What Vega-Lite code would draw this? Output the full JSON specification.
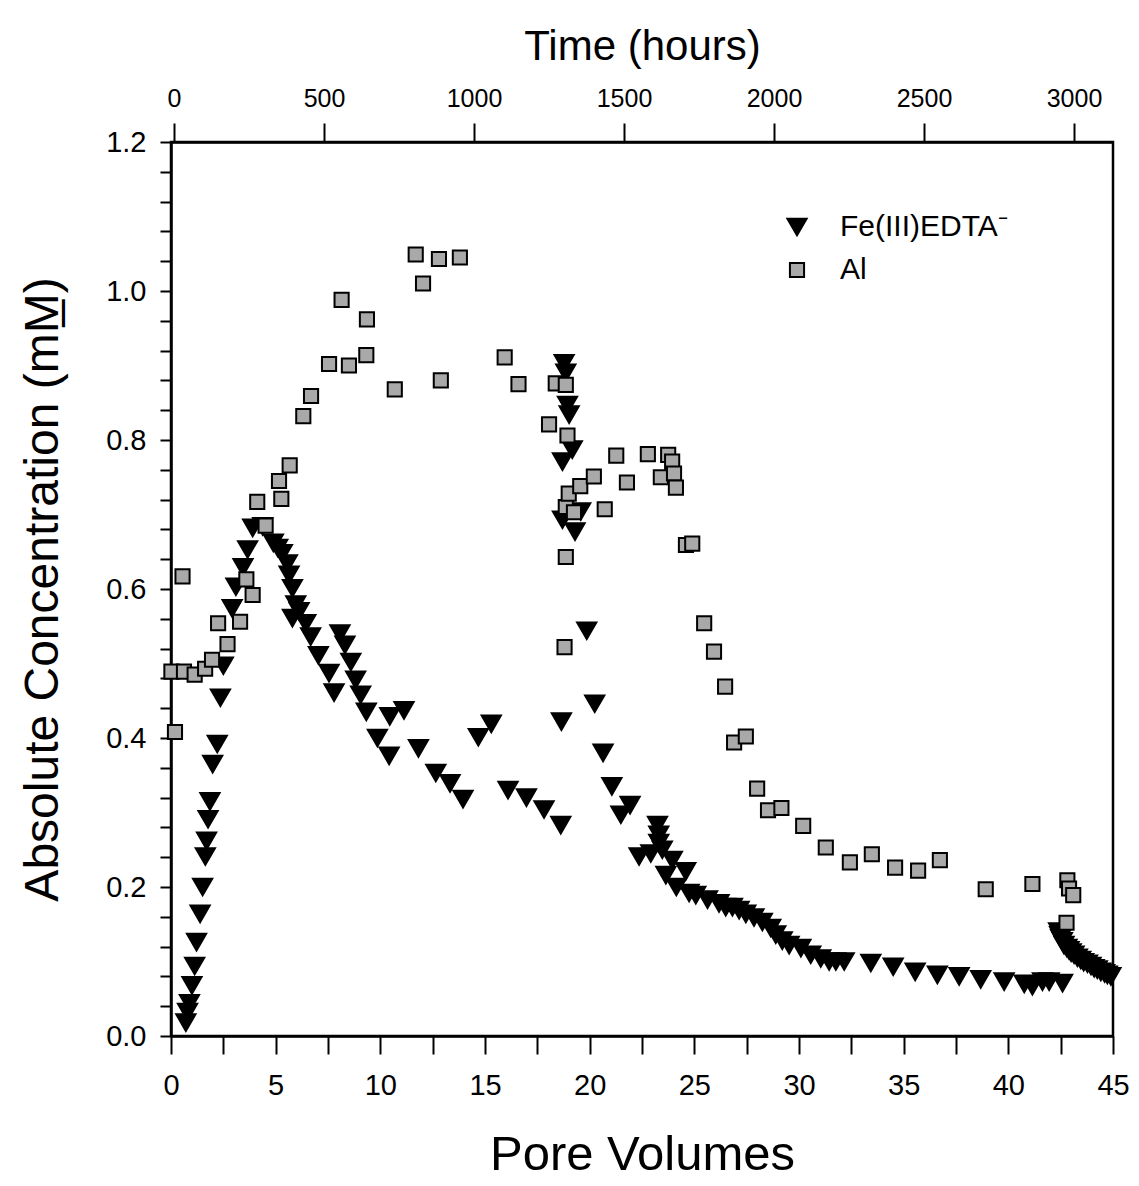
{
  "$schema": "https://vega.github.io/schema/vega-lite/v6.json",
  "width": 942,
  "height": 894,
  "autosize": {"type": "none"},
  "padding": {"left": 171, "top": 142, "right": 26, "bottom": 150},
  "background": "white",
  "config": {
    "font": "Liberation Sans",
    "view": {"stroke": "black", "strokeWidth": 2.5},
    "axis": {
      "grid": false,
      "domainColor": "black",
      "domainWidth": 2.5,
      "tickColor": "black",
      "tickWidth": 2,
      "labelColor": "black",
      "titleColor": "black",
      "labelFont": "Liberation Sans",
      "titleFont": "Liberation Sans",
      "titleFontWeight": "normal",
      "labelFlush": false,
      "labelOverlap": false
    },
    "legend": {
      "orient": "none",
      "legendX": 611,
      "legendY": 70,
      "padding": 0,
      "labelFontSize": 30,
      "labelFont": "Liberation Sans",
      "labelColor": "black",
      "labelOffset": 28,
      "labelLimit": 0,
      "rowPadding": 13,
      "symbolStrokeWidth": 2
    }
  },
  "datasets": {
    "pts": [
      {"s": "Fe(III)EDTA⁻", "pv": 0.71, "c": 0.018},
      {"s": "Fe(III)EDTA⁻", "pv": 0.79, "c": 0.032},
      {"s": "Fe(III)EDTA⁻", "pv": 0.88, "c": 0.044},
      {"s": "Fe(III)EDTA⁻", "pv": 1.0, "c": 0.068},
      {"s": "Fe(III)EDTA⁻", "pv": 1.13, "c": 0.094},
      {"s": "Fe(III)EDTA⁻", "pv": 1.22, "c": 0.126},
      {"s": "Fe(III)EDTA⁻", "pv": 1.39, "c": 0.164},
      {"s": "Fe(III)EDTA⁻", "pv": 1.51, "c": 0.2},
      {"s": "Fe(III)EDTA⁻", "pv": 1.64, "c": 0.241},
      {"s": "Fe(III)EDTA⁻", "pv": 1.7, "c": 0.262},
      {"s": "Fe(III)EDTA⁻", "pv": 1.77, "c": 0.291},
      {"s": "Fe(III)EDTA⁻", "pv": 1.86, "c": 0.315},
      {"s": "Fe(III)EDTA⁻", "pv": 1.99, "c": 0.365},
      {"s": "Fe(III)EDTA⁻", "pv": 2.21, "c": 0.392},
      {"s": "Fe(III)EDTA⁻", "pv": 2.36, "c": 0.454},
      {"s": "Fe(III)EDTA⁻", "pv": 2.5, "c": 0.497},
      {"s": "Fe(III)EDTA⁻", "pv": 2.92, "c": 0.574},
      {"s": "Fe(III)EDTA⁻", "pv": 3.1, "c": 0.603},
      {"s": "Fe(III)EDTA⁻", "pv": 3.44, "c": 0.629},
      {"s": "Fe(III)EDTA⁻", "pv": 3.66, "c": 0.653},
      {"s": "Fe(III)EDTA⁻", "pv": 3.9, "c": 0.682},
      {"s": "Fe(III)EDTA⁻", "pv": 4.38, "c": 0.684},
      {"s": "Fe(III)EDTA⁻", "pv": 4.89, "c": 0.662},
      {"s": "Fe(III)EDTA⁻", "pv": 5.1, "c": 0.655},
      {"s": "Fe(III)EDTA⁻", "pv": 5.32, "c": 0.648},
      {"s": "Fe(III)EDTA⁻", "pv": 5.56, "c": 0.634},
      {"s": "Fe(III)EDTA⁻", "pv": 5.64, "c": 0.619},
      {"s": "Fe(III)EDTA⁻", "pv": 5.8, "c": 0.601},
      {"s": "Fe(III)EDTA⁻", "pv": 5.96, "c": 0.579},
      {"s": "Fe(III)EDTA⁻", "pv": 5.8, "c": 0.561},
      {"s": "Fe(III)EDTA⁻", "pv": 6.12, "c": 0.57},
      {"s": "Fe(III)EDTA⁻", "pv": 6.44, "c": 0.554},
      {"s": "Fe(III)EDTA⁻", "pv": 6.67, "c": 0.536},
      {"s": "Fe(III)EDTA⁻", "pv": 7.04, "c": 0.511},
      {"s": "Fe(III)EDTA⁻", "pv": 7.55, "c": 0.487},
      {"s": "Fe(III)EDTA⁻", "pv": 7.79, "c": 0.461},
      {"s": "Fe(III)EDTA⁻", "pv": 8.07, "c": 0.54},
      {"s": "Fe(III)EDTA⁻", "pv": 8.31, "c": 0.525},
      {"s": "Fe(III)EDTA⁻", "pv": 8.59, "c": 0.502},
      {"s": "Fe(III)EDTA⁻", "pv": 8.82, "c": 0.478},
      {"s": "Fe(III)EDTA⁻", "pv": 9.06, "c": 0.458},
      {"s": "Fe(III)EDTA⁻", "pv": 9.33, "c": 0.435},
      {"s": "Fe(III)EDTA⁻", "pv": 9.86, "c": 0.4},
      {"s": "Fe(III)EDTA⁻", "pv": 10.42, "c": 0.376},
      {"s": "Fe(III)EDTA⁻", "pv": 10.45, "c": 0.429},
      {"s": "Fe(III)EDTA⁻", "pv": 11.13, "c": 0.437},
      {"s": "Fe(III)EDTA⁻", "pv": 11.82, "c": 0.386},
      {"s": "Fe(III)EDTA⁻", "pv": 12.65, "c": 0.353},
      {"s": "Fe(III)EDTA⁻", "pv": 13.33, "c": 0.339},
      {"s": "Fe(III)EDTA⁻", "pv": 13.95, "c": 0.318},
      {"s": "Fe(III)EDTA⁻", "pv": 14.68, "c": 0.401},
      {"s": "Fe(III)EDTA⁻", "pv": 15.3, "c": 0.419},
      {"s": "Fe(III)EDTA⁻", "pv": 16.1, "c": 0.33},
      {"s": "Fe(III)EDTA⁻", "pv": 16.98, "c": 0.32},
      {"s": "Fe(III)EDTA⁻", "pv": 17.82, "c": 0.304},
      {"s": "Fe(III)EDTA⁻", "pv": 18.62, "c": 0.283},
      {"s": "Fe(III)EDTA⁻", "pv": 18.65, "c": 0.422},
      {"s": "Fe(III)EDTA⁻", "pv": 18.78, "c": 0.903},
      {"s": "Fe(III)EDTA⁻", "pv": 18.86, "c": 0.89},
      {"s": "Fe(III)EDTA⁻", "pv": 18.94, "c": 0.847},
      {"s": "Fe(III)EDTA⁻", "pv": 19.02, "c": 0.834},
      {"s": "Fe(III)EDTA⁻", "pv": 19.17, "c": 0.787},
      {"s": "Fe(III)EDTA⁻", "pv": 18.7, "c": 0.771},
      {"s": "Fe(III)EDTA⁻", "pv": 19.57, "c": 0.704},
      {"s": "Fe(III)EDTA⁻", "pv": 18.7, "c": 0.693},
      {"s": "Fe(III)EDTA⁻", "pv": 19.3, "c": 0.677},
      {"s": "Fe(III)EDTA⁻", "pv": 19.86, "c": 0.544},
      {"s": "Fe(III)EDTA⁻", "pv": 20.24, "c": 0.446},
      {"s": "Fe(III)EDTA⁻", "pv": 20.64, "c": 0.38},
      {"s": "Fe(III)EDTA⁻", "pv": 21.06, "c": 0.335},
      {"s": "Fe(III)EDTA⁻", "pv": 21.93, "c": 0.31},
      {"s": "Fe(III)EDTA⁻", "pv": 21.49, "c": 0.297},
      {"s": "Fe(III)EDTA⁻", "pv": 22.36, "c": 0.241},
      {"s": "Fe(III)EDTA⁻", "pv": 22.92, "c": 0.245},
      {"s": "Fe(III)EDTA⁻", "pv": 23.24, "c": 0.283},
      {"s": "Fe(III)EDTA⁻", "pv": 23.3, "c": 0.27},
      {"s": "Fe(III)EDTA⁻", "pv": 23.3, "c": 0.259},
      {"s": "Fe(III)EDTA⁻", "pv": 23.47, "c": 0.25},
      {"s": "Fe(III)EDTA⁻", "pv": 23.95, "c": 0.236},
      {"s": "Fe(III)EDTA⁻", "pv": 23.64, "c": 0.216},
      {"s": "Fe(III)EDTA⁻", "pv": 24.59, "c": 0.221},
      {"s": "Fe(III)EDTA⁻", "pv": 24.14, "c": 0.2},
      {"s": "Fe(III)EDTA⁻", "pv": 24.75, "c": 0.192},
      {"s": "Fe(III)EDTA⁻", "pv": 25.07, "c": 0.189},
      {"s": "Fe(III)EDTA⁻", "pv": 25.63, "c": 0.183},
      {"s": "Fe(III)EDTA⁻", "pv": 26.18, "c": 0.178},
      {"s": "Fe(III)EDTA⁻", "pv": 26.5, "c": 0.173},
      {"s": "Fe(III)EDTA⁻", "pv": 26.82, "c": 0.173},
      {"s": "Fe(III)EDTA⁻", "pv": 27.14, "c": 0.169},
      {"s": "Fe(III)EDTA⁻", "pv": 27.46, "c": 0.164},
      {"s": "Fe(III)EDTA⁻", "pv": 27.85, "c": 0.159},
      {"s": "Fe(III)EDTA⁻", "pv": 28.25, "c": 0.153},
      {"s": "Fe(III)EDTA⁻", "pv": 28.65, "c": 0.145},
      {"s": "Fe(III)EDTA⁻", "pv": 28.89, "c": 0.136},
      {"s": "Fe(III)EDTA⁻", "pv": 29.2, "c": 0.128},
      {"s": "Fe(III)EDTA⁻", "pv": 29.53, "c": 0.122},
      {"s": "Fe(III)EDTA⁻", "pv": 30.09, "c": 0.118},
      {"s": "Fe(III)EDTA⁻", "pv": 30.56, "c": 0.109},
      {"s": "Fe(III)EDTA⁻", "pv": 31.04, "c": 0.104},
      {"s": "Fe(III)EDTA⁻", "pv": 31.44, "c": 0.1},
      {"s": "Fe(III)EDTA⁻", "pv": 31.76, "c": 0.1},
      {"s": "Fe(III)EDTA⁻", "pv": 32.16, "c": 0.1},
      {"s": "Fe(III)EDTA⁻", "pv": 33.43, "c": 0.098},
      {"s": "Fe(III)EDTA⁻", "pv": 34.5, "c": 0.093},
      {"s": "Fe(III)EDTA⁻", "pv": 35.55, "c": 0.086},
      {"s": "Fe(III)EDTA⁻", "pv": 36.61, "c": 0.082},
      {"s": "Fe(III)EDTA⁻", "pv": 37.65, "c": 0.08},
      {"s": "Fe(III)EDTA⁻", "pv": 38.68, "c": 0.076},
      {"s": "Fe(III)EDTA⁻", "pv": 39.8, "c": 0.073},
      {"s": "Fe(III)EDTA⁻", "pv": 40.76, "c": 0.07},
      {"s": "Fe(III)EDTA⁻", "pv": 41.15, "c": 0.067},
      {"s": "Fe(III)EDTA⁻", "pv": 41.63, "c": 0.073},
      {"s": "Fe(III)EDTA⁻", "pv": 41.95, "c": 0.073},
      {"s": "Fe(III)EDTA⁻", "pv": 42.59, "c": 0.071},
      {"s": "Fe(III)EDTA⁻", "pv": 42.4, "c": 0.14},
      {"s": "Fe(III)EDTA⁻", "pv": 42.45, "c": 0.135},
      {"s": "Fe(III)EDTA⁻", "pv": 42.5, "c": 0.131},
      {"s": "Fe(III)EDTA⁻", "pv": 42.58, "c": 0.127},
      {"s": "Fe(III)EDTA⁻", "pv": 42.66, "c": 0.122},
      {"s": "Fe(III)EDTA⁻", "pv": 42.8, "c": 0.118},
      {"s": "Fe(III)EDTA⁻", "pv": 42.9, "c": 0.115},
      {"s": "Fe(III)EDTA⁻", "pv": 43.0, "c": 0.112},
      {"s": "Fe(III)EDTA⁻", "pv": 43.14, "c": 0.109},
      {"s": "Fe(III)EDTA⁻", "pv": 43.3, "c": 0.105},
      {"s": "Fe(III)EDTA⁻", "pv": 43.46, "c": 0.102},
      {"s": "Fe(III)EDTA⁻", "pv": 43.6, "c": 0.099},
      {"s": "Fe(III)EDTA⁻", "pv": 43.78, "c": 0.097},
      {"s": "Fe(III)EDTA⁻", "pv": 43.95, "c": 0.094},
      {"s": "Fe(III)EDTA⁻", "pv": 44.1, "c": 0.091},
      {"s": "Fe(III)EDTA⁻", "pv": 44.25, "c": 0.089},
      {"s": "Fe(III)EDTA⁻", "pv": 44.42, "c": 0.086},
      {"s": "Fe(III)EDTA⁻", "pv": 44.6, "c": 0.084},
      {"s": "Fe(III)EDTA⁻", "pv": 44.73, "c": 0.082},
      {"s": "Fe(III)EDTA⁻", "pv": 44.9, "c": 0.08},
      {"s": "Al", "pv": 0.02, "c": 0.489},
      {"s": "Al", "pv": 0.19, "c": 0.408},
      {"s": "Al", "pv": 0.55, "c": 0.617},
      {"s": "Al", "pv": 0.62, "c": 0.489},
      {"s": "Al", "pv": 1.13, "c": 0.485},
      {"s": "Al", "pv": 1.63, "c": 0.493},
      {"s": "Al", "pv": 1.96, "c": 0.505},
      {"s": "Al", "pv": 2.25, "c": 0.554},
      {"s": "Al", "pv": 2.7, "c": 0.526},
      {"s": "Al", "pv": 3.3, "c": 0.556},
      {"s": "Al", "pv": 3.6, "c": 0.613},
      {"s": "Al", "pv": 3.9, "c": 0.592},
      {"s": "Al", "pv": 4.12, "c": 0.717},
      {"s": "Al", "pv": 4.52, "c": 0.685},
      {"s": "Al", "pv": 5.16, "c": 0.745},
      {"s": "Al", "pv": 5.27, "c": 0.721},
      {"s": "Al", "pv": 5.67, "c": 0.766},
      {"s": "Al", "pv": 6.32, "c": 0.832},
      {"s": "Al", "pv": 6.69, "c": 0.859},
      {"s": "Al", "pv": 7.55, "c": 0.902},
      {"s": "Al", "pv": 8.15, "c": 0.988},
      {"s": "Al", "pv": 8.5, "c": 0.9},
      {"s": "Al", "pv": 9.33, "c": 0.914},
      {"s": "Al", "pv": 9.36, "c": 0.962},
      {"s": "Al", "pv": 10.69, "c": 0.868},
      {"s": "Al", "pv": 11.69, "c": 1.049},
      {"s": "Al", "pv": 12.04, "c": 1.01},
      {"s": "Al", "pv": 12.8, "c": 1.043},
      {"s": "Al", "pv": 12.89, "c": 0.88},
      {"s": "Al", "pv": 13.8, "c": 1.045},
      {"s": "Al", "pv": 15.94, "c": 0.911},
      {"s": "Al", "pv": 16.6, "c": 0.875},
      {"s": "Al", "pv": 18.06, "c": 0.821},
      {"s": "Al", "pv": 18.38, "c": 0.876},
      {"s": "Al", "pv": 18.86, "c": 0.874},
      {"s": "Al", "pv": 18.94, "c": 0.806},
      {"s": "Al", "pv": 18.86, "c": 0.71},
      {"s": "Al", "pv": 19.0, "c": 0.728},
      {"s": "Al", "pv": 19.25, "c": 0.703},
      {"s": "Al", "pv": 19.55, "c": 0.738},
      {"s": "Al", "pv": 20.2, "c": 0.751},
      {"s": "Al", "pv": 20.72, "c": 0.707},
      {"s": "Al", "pv": 21.27, "c": 0.779},
      {"s": "Al", "pv": 21.78, "c": 0.743},
      {"s": "Al", "pv": 22.78, "c": 0.781},
      {"s": "Al", "pv": 23.4, "c": 0.75},
      {"s": "Al", "pv": 23.75, "c": 0.78},
      {"s": "Al", "pv": 23.94, "c": 0.771},
      {"s": "Al", "pv": 24.03, "c": 0.755},
      {"s": "Al", "pv": 24.12, "c": 0.736},
      {"s": "Al", "pv": 24.6, "c": 0.659},
      {"s": "Al", "pv": 24.9, "c": 0.661},
      {"s": "Al", "pv": 18.86, "c": 0.643},
      {"s": "Al", "pv": 18.8, "c": 0.522},
      {"s": "Al", "pv": 25.47, "c": 0.554},
      {"s": "Al", "pv": 25.94, "c": 0.516},
      {"s": "Al", "pv": 26.47, "c": 0.469},
      {"s": "Al", "pv": 26.9, "c": 0.394},
      {"s": "Al", "pv": 27.46, "c": 0.402},
      {"s": "Al", "pv": 28.0, "c": 0.332},
      {"s": "Al", "pv": 28.52, "c": 0.303},
      {"s": "Al", "pv": 29.16, "c": 0.306},
      {"s": "Al", "pv": 30.2, "c": 0.282},
      {"s": "Al", "pv": 31.28, "c": 0.253},
      {"s": "Al", "pv": 32.43, "c": 0.233},
      {"s": "Al", "pv": 33.48, "c": 0.244},
      {"s": "Al", "pv": 34.59, "c": 0.226},
      {"s": "Al", "pv": 35.69, "c": 0.222},
      {"s": "Al", "pv": 36.73, "c": 0.236},
      {"s": "Al", "pv": 38.92, "c": 0.197},
      {"s": "Al", "pv": 41.15, "c": 0.204},
      {"s": "Al", "pv": 42.82, "c": 0.209},
      {"s": "Al", "pv": 42.9, "c": 0.198},
      {"s": "Al", "pv": 43.1, "c": 0.189},
      {"s": "Al", "pv": 42.78, "c": 0.152}
    ],
    "timeaxis": [{"t": -10}, {"t": 3130}]
  },
  "layer": [
    {
      "data": {"name": "pts"},
      "mark": {"type": "point", "filled": true, "strokeWidth": 2, "opacity": 1},
      "encoding": {
        "x": {
          "field": "pv", "type": "quantitative",
          "scale": {"domain": [0, 45], "nice": false, "zero": false},
          "axis": {
            "orient": "bottom",
            "values": [0, 2.5, 5, 7.5, 10, 12.5, 15, 17.5, 20, 22.5, 25, 27.5, 30, 32.5, 35, 37.5, 40, 42.5, 45],
            "labelExpr": "datum.value % 5 === 0 ? datum.label : ''",
            "tickSize": 18,
            "labelFontSize": 29,
            "labelPadding": 17,
            "title": "Pore Volumes",
            "titleFontSize": 49,
            "titlePadding": 30,
            "encode": {"ticks": {"update": {"y2": {"signal": "datum.value % 5 === 0 ? 18 : 10"}}}}
          }
        },
        "y": {
          "field": "c", "type": "quantitative",
          "scale": {"domain": [0, 1.2], "nice": false, "zero": false},
          "axis": {
            "values": [0, 0.04, 0.08, 0.12, 0.16, 0.2, 0.24, 0.28, 0.32, 0.36, 0.4, 0.44, 0.48, 0.52, 0.56, 0.6, 0.64, 0.68, 0.72, 0.76, 0.8, 0.84, 0.88, 0.92, 0.96, 1.0, 1.04, 1.08, 1.12, 1.16, 1.2],
            "format": ".1f",
            "labelExpr": "abs(datum.value * 5 - round(datum.value * 5)) < 0.001 ? datum.label : ''",
            "tickSize": 11,
            "labelFontSize": 29,
            "labelPadding": 14,
            "title": "Absolute Concentration (mM̲)",
            "titleFontSize": 48,
            "titlePadding": 38
          }
        },
        "fill": {
          "field": "s", "type": "nominal",
          "scale": {"domain": ["Fe(III)EDTA⁻", "Al"], "range": ["black", "#a9a9a9"]},
          "title": null
        },
        "stroke": {
          "field": "s", "type": "nominal",
          "scale": {"domain": ["Fe(III)EDTA⁻", "Al"], "range": ["black", "black"]},
          "title": null
        },
        "shape": {
          "field": "s", "type": "nominal",
          "scale": {"domain": ["Fe(III)EDTA⁻", "Al"], "range": ["triangle-down", "square"]},
          "title": null
        },
        "size": {
          "field": "s", "type": "nominal",
          "scale": {"domain": ["Fe(III)EDTA⁻", "Al"], "range": [370, 200]},
          "title": null
        }
      }
    },
    {
      "data": {"name": "timeaxis"},
      "mark": {"type": "point", "opacity": 0},
      "encoding": {
        "x": {
          "field": "t", "type": "quantitative",
          "scale": {"domain": [-10, 3130], "nice": false, "zero": false},
          "axis": {
            "orient": "top",
            "values": [0, 500, 1000, 1500, 2000, 2500, 3000],
            "format": "d",
            "tickSize": 19,
            "labelFontSize": 25,
            "labelPadding": 12,
            "title": "Time (hours)",
            "titleFontSize": 42,
            "titlePadding": 18
          }
        }
      }
    }
  ],
  "resolve": {"scale": {"x": "independent"}}
}
